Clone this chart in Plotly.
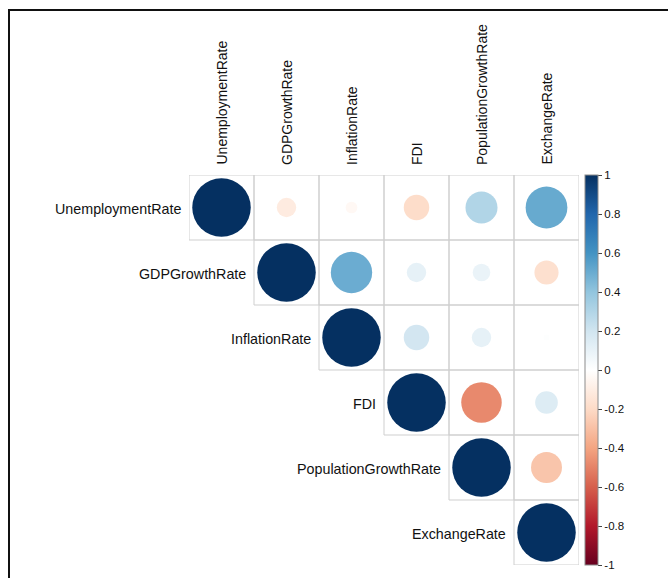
import plotly.graph_objects as go

# Variables and their pairwise correlations (upper triangle, row-major)
variables = ["UnemploymentRate", "GDPGrowthRate", "InflationRate",
             "FDI", "PopulationGrowthRate", "ExchangeRate"]

corr_unemployment = [1.00, -0.11, -0.04, -0.19, 0.30, 0.51]
corr_gdp = [1.00, 0.50, 0.11, 0.09, -0.17]
corr_inflation = [1.00, 0.19, 0.11, 0.01]
corr_fdi = [1.00, -0.48, 0.15]
corr_population = [1.00, -0.28]
corr_exchange = [1.00]

colorbar_ticks = [1, 0.8, 0.6, 0.4, 0.2, 0, -0.2, -0.4, -0.6, -0.8, -1]

rows = [corr_unemployment, corr_gdp, corr_inflation,
        corr_fdi, corr_population, corr_exchange]

# RdBu diverging palette (dark red -> white -> dark blue)
rdbu = ["#67001F", "#B2182B", "#D6604D", "#F4A582", "#FDDBC7", "#FFFFFF",
        "#D1E5F0", "#92C5DE", "#4393C3", "#2166AC", "#053061"]
colorscale = [[k / (len(rdbu) - 1), c] for k, c in enumerate(rdbu)]

n = len(variables)
W, H = 668, 578
ML, MR, MT, MB = 189, 89, 175, 13
cell_px = (W - ML - MR) / n

xs, ys, vals, sizes = [], [], [], []
for i, row in enumerate(rows):
    for k, v in enumerate(row):
        j = i + k
        xs.append(j)
        ys.append(i)
        vals.append(v)
        # circle area proportional to |r|
        sizes.append(0.9 * cell_px * abs(v) ** 0.5)

fig = go.Figure()

# cell borders of the upper triangle
for i in range(n):
    for j in range(i, n):
        fig.add_shape(type="rect", xref="x", yref="y",
                      x0=j - 0.5, x1=j + 0.5, y0=i - 0.5, y1=i + 0.5,
                      line=dict(color="#CFCFCF", width=1), layer="below")

fig.add_trace(go.Scatter(
    x=xs, y=ys, mode="markers",
    marker=dict(
        size=sizes, sizemode="diameter", color=vals,
        colorscale=colorscale, cmin=-1, cmax=1,
        opacity=1,
        line=dict(width=0),
        showscale=True,
        colorbar=dict(
            x=1.0154, xanchor="left", xref="paper",
            y=0.5, yanchor="middle", len=1.0, lenmode="fraction",
            xpad=0, ypad=0,
            thickness=13, outlinecolor="#8C8C8C", outlinewidth=1,
            tickvals=colorbar_ticks,
            ticktext=[f"{t:g}" for t in colorbar_ticks],
            ticks="outside", ticklen=4, tickcolor="#444",
            tickfont=dict(family="Liberation Sans, Arial", size=11.5, color="#111"),
        ),
    ),
    hoverinfo="skip",
    showlegend=False,
))

# column labels (rotated) above the grid
for j, name in enumerate(variables):
    fig.add_annotation(x=j, y=1, xref="x", yref="paper",
                       text=name, textangle=-90, showarrow=False,
                       xanchor="center", yanchor="bottom", yshift=8,
                       font=dict(family="Liberation Sans, Arial", size=14, color="#111"))

# row labels to the left of each diagonal cell
for i, name in enumerate(variables):
    fig.add_annotation(x=i - 0.5, y=i, xref="x", yref="y",
                       text=name, showarrow=False,
                       xanchor="right", yanchor="middle", xshift=-6, yshift=-1,
                       font=dict(family="Liberation Sans, Arial", size=14.3, color="#111"))

# outer frame (top and left edges)
fig.add_shape(type="line", xref="paper", yref="paper",
              x0=(8 - ML) / (W - ML - MR), x1=(W - ML) / (W - ML - MR),
              y0=(H - MB - 10) / (H - MT - MB), y1=(H - MB - 10) / (H - MT - MB),
              line=dict(color="#111", width=2))
fig.add_shape(type="line", xref="paper", yref="paper",
              x0=(9 - ML) / (W - ML - MR), x1=(9 - ML) / (W - ML - MR),
              y0=(H - MB - 10) / (H - MT - MB), y1=-MB / (H - MT - MB),
              line=dict(color="#111", width=2))

fig.update_xaxes(range=[-0.5, n - 0.5], visible=False, fixedrange=True)
fig.update_yaxes(range=[n - 0.5, -0.5], visible=False, fixedrange=True)

fig.update_layout(
    width=W, height=H, autosize=False,
    margin=dict(l=ML, r=MR, t=MT, b=MB, pad=0),
    paper_bgcolor="white", plot_bgcolor="white",
)

fig.write_html("out.html")
